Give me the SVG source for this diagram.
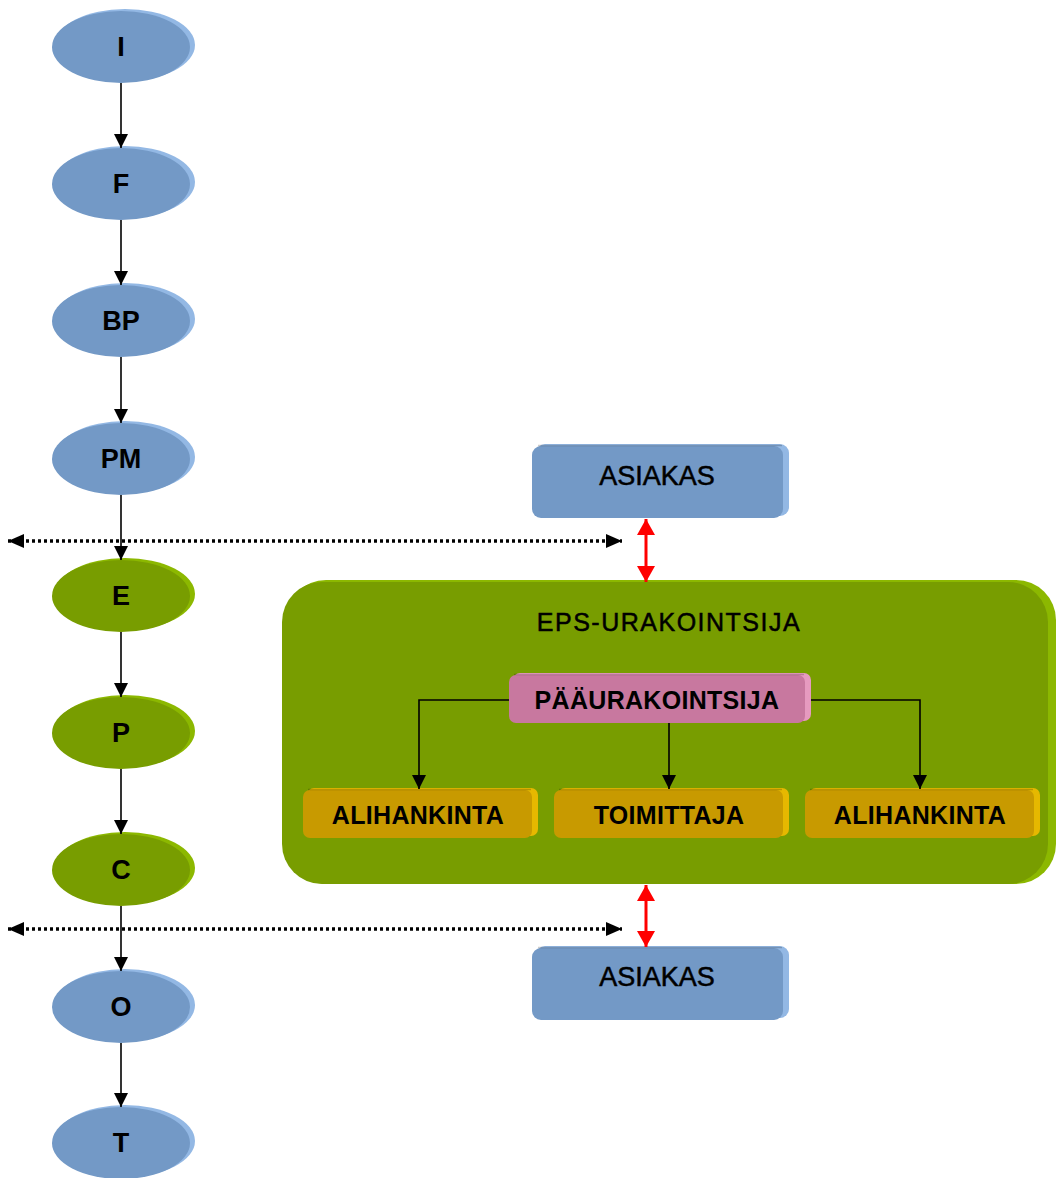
<svg xmlns="http://www.w3.org/2000/svg" width="1056" height="1178" viewBox="0 0 1056 1178">
  <defs>
    <marker id="arrow" markerUnits="userSpaceOnUse" markerWidth="14" markerHeight="14" viewBox="0 0 14 14" refX="14" refY="7" orient="auto">
      <path d="M0,0 L14,7 L0,14 Z" fill="#000"/>
    </marker>
    <marker id="dotArrow" markerUnits="userSpaceOnUse" markerWidth="16" markerHeight="16" viewBox="0 0 16 16" refX="16" refY="8" orient="auto-start-reverse">
      <path d="M0,1 L16,8 L0,15 Z" fill="#000"/>
    </marker>
    <marker id="redArrow" markerUnits="userSpaceOnUse" markerWidth="18" markerHeight="18" viewBox="0 0 18 18" refX="16" refY="9" orient="auto-start-reverse">
      <path d="M0,0 L16,9 L0,18 Z" fill="#FF0000"/>
    </marker>
  </defs>
  <style>
    text { font-family: "Liberation Sans", Arial, sans-serif; fill: #000; text-anchor: middle; dominant-baseline: central; }
    .lbl { font-size: 27px; font-weight: bold; }
    .reg { font-size: 27px; stroke: #000; stroke-width: 0.5; }
    .box { font-size: 25px; font-weight: bold; letter-spacing: 0.3px; }
    .blue { fill: #7399C6; }
    .blueEdge { fill: #93B8E4; }
    .green { fill: #789D00; }
    .greenEdge { fill: #8CB800; }
    .pink { fill: #C8789F; }
    .pinkEdge { fill: #E69ABF; }
    .gold { fill: #C89A00; }
    .goldEdge { fill: #E6B800; }
    .topline { fill: none; stroke-width: 1.5; stroke-opacity: 0.2; stroke: #000; }
    .flow { stroke: #000; stroke-width: 1.6; fill: none; marker-end: url(#arrow); }
    .dotted { stroke: #000; stroke-width: 3.5; stroke-dasharray: 3 3; fill: none; marker-start: url(#dotArrow); marker-end: url(#dotArrow); }
    .red { stroke: #FF0000; stroke-width: 3; fill: none; marker-start: url(#redArrow); marker-end: url(#redArrow); }
  </style>

  <rect width="1056" height="1178" fill="#fff"/>

  <!-- container: EPS contractor -->
  <g id="eps-urakointsija">
    <rect x="286" y="580" width="770" height="304" rx="40" class="greenEdge"/>
    <rect x="282" y="582" width="766" height="302" rx="40" class="green"/>
    <text x="669" y="622" class="reg" style="font-size:25px;letter-spacing:1.5px">EPS-URAKOINTSIJA</text>
  </g>

  <!-- phase ellipses -->
  <g id="node-I">
    <ellipse cx="125" cy="45" rx="70" ry="36" class="blueEdge"/>
    <ellipse cx="121" cy="47" rx="69" ry="36" class="blue"/>
    <text x="121" y="47" class="lbl">I</text>
  </g>
  <g id="node-F">
    <ellipse cx="125" cy="182" rx="70" ry="36" class="blueEdge"/>
    <ellipse cx="121" cy="184" rx="69" ry="36" class="blue"/>
    <text x="121" y="184" class="lbl">F</text>
  </g>
  <g id="node-BP">
    <ellipse cx="125" cy="319" rx="70" ry="36" class="blueEdge"/>
    <ellipse cx="121" cy="321" rx="69" ry="36" class="blue"/>
    <text x="121" y="321" class="lbl">BP</text>
  </g>
  <g id="node-PM">
    <ellipse cx="125" cy="457" rx="70" ry="36" class="blueEdge"/>
    <ellipse cx="121" cy="459" rx="69" ry="36" class="blue"/>
    <text x="121" y="459" class="lbl">PM</text>
  </g>
  <g id="node-E">
    <ellipse cx="125" cy="594" rx="70" ry="36" class="greenEdge"/>
    <ellipse cx="121" cy="596" rx="69" ry="36" class="green"/>
    <text x="121" y="596" class="lbl">E</text>
  </g>
  <g id="node-P">
    <ellipse cx="125" cy="731" rx="70" ry="36" class="greenEdge"/>
    <ellipse cx="121" cy="733" rx="69" ry="36" class="green"/>
    <text x="121" y="733" class="lbl">P</text>
  </g>
  <g id="node-C">
    <ellipse cx="125" cy="868" rx="70" ry="36" class="greenEdge"/>
    <ellipse cx="121" cy="870" rx="69" ry="36" class="green"/>
    <text x="121" y="870" class="lbl">C</text>
  </g>
  <g id="node-O">
    <ellipse cx="125" cy="1005" rx="70" ry="36" class="blueEdge"/>
    <ellipse cx="121" cy="1007" rx="69" ry="36" class="blue"/>
    <text x="121" y="1007" class="lbl">O</text>
  </g>
  <g id="node-T">
    <ellipse cx="125" cy="1141" rx="70" ry="36" class="blueEdge"/>
    <ellipse cx="121" cy="1143" rx="69" ry="36" class="blue"/>
    <text x="121" y="1143" class="lbl">T</text>
  </g>

  <!-- customer boxes -->
  <g id="asiakas-top">
    <rect x="536" y="444" width="253" height="72" rx="9" class="blueEdge"/>
    <rect x="532" y="446" width="251" height="72" rx="9" class="blue"/>
    <path d="M538,445.5 H782" class="topline"/>
    <text x="657" y="476" class="reg">ASIAKAS</text>
  </g>
  <g id="asiakas-bottom">
    <rect x="536" y="946" width="253" height="72" rx="9" class="blueEdge"/>
    <rect x="532" y="948" width="251" height="72" rx="9" class="blue"/>
    <path d="M538,947.5 H782" class="topline"/>
    <text x="657" y="977" class="reg">ASIAKAS</text>
  </g>

  <!-- main contractor and its parties -->
  <g id="paaurakointsija">
    <rect x="513" y="673" width="298" height="48" rx="7" class="pinkEdge"/>
    <rect x="509" y="675" width="296" height="48" rx="7" class="pink"/>
    <path d="M514,674.5 H804" class="topline"/>
    <text x="657" y="700" class="box">PÄÄURAKOINTSIJA</text>
  </g>
  <g id="alihankinta-left">
    <rect x="307" y="788" width="231" height="48" rx="7" class="goldEdge"/>
    <rect x="303" y="790" width="229" height="48" rx="7" class="gold"/>
    <path d="M308,789.5 H531" class="topline"/>
    <text x="418" y="815" class="box">ALIHANKINTA</text>
  </g>
  <g id="toimittaja">
    <rect x="558" y="788" width="231" height="48" rx="7" class="goldEdge"/>
    <rect x="554" y="790" width="229" height="48" rx="7" class="gold"/>
    <path d="M559,789.5 H782" class="topline"/>
    <text x="669" y="815" class="box">TOIMITTAJA</text>
  </g>
  <g id="alihankinta-right">
    <rect x="809" y="788" width="231" height="48" rx="7" class="goldEdge"/>
    <rect x="805" y="790" width="229" height="48" rx="7" class="gold"/>
    <path d="M810,789.5 H1033" class="topline"/>
    <text x="920" y="815" class="box">ALIHANKINTA</text>
  </g>

  <!-- connectors -->
  <g id="connectors">
    <path d="M121,83 V148" class="flow"/>
    <path d="M121,220 V285" class="flow"/>
    <path d="M121,357 V423" class="flow"/>
    <path d="M121,495 V560" class="flow"/>
    <path d="M121,632 V697" class="flow"/>
    <path d="M121,769 V834" class="flow"/>
    <path d="M121,906 V971" class="flow"/>
    <path d="M121,1043 V1107" class="flow"/>

    <path d="M509,700 H419 V789" class="flow"/>
    <path d="M669,723 V789" class="flow"/>
    <path d="M811,700 H920 V789" class="flow"/>

    <path d="M8,541 H622" class="dotted"/>
    <path d="M8,929 H622" class="dotted"/>

    <path d="M646,519 V582" class="red"/>
    <path d="M646,885 V947" class="red"/>
  </g>
</svg>
